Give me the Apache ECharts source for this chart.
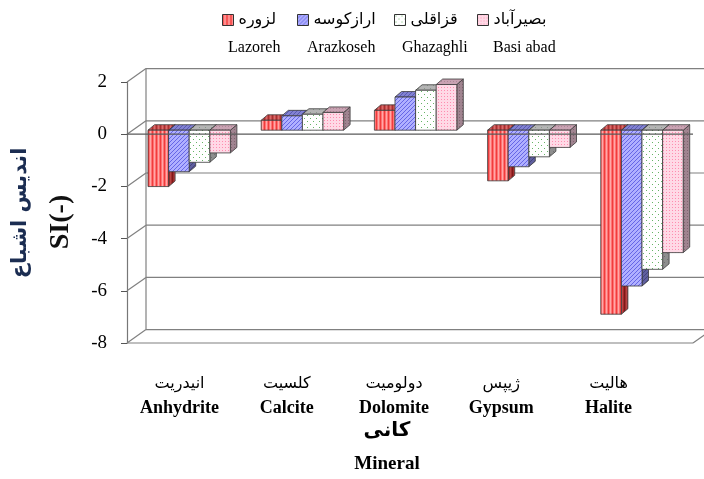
<!DOCTYPE html>
<html>
<head>
<meta charset="utf-8">
<script src="https://cdn.jsdelivr.net/npm/echarts@6/dist/echarts.min.js"></script>
<style>
  html, body { margin: 0; padding: 0; background: #ffffff; }
  #chart { width: 704px; height: 479px; }
</style>
</head>
<body>
<div id="chart"></div>
<script>
// Saturation index of four springs for five minerals
const categories = ['Anhydrite', 'Calcite', 'Dolomite', 'Gypsum', 'Halite'];
const categoriesFa = ['انیدریت', 'کلسیت', 'دولومیت', 'ژیپس', 'هالیت'];
const seriesNamesFa = ['لزوره', 'ارازکوسه', 'قزاقلی', 'بصیرآباد'];
const seriesNamesEn = ['Lazoreh', 'Arazkoseh', 'Ghazaghli', 'Basi abad'];
const lazoreh   = [-2.16, 0.38, 0.76, -1.94, -7.05];
const arazkoseh = [-1.59, 0.55, 1.27, -1.40, -5.97];
const ghazaghli = [-1.23, 0.61, 1.53, -1.02, -5.33];
const basiAbad  = [-0.87, 0.68, 1.75, -0.66, -4.69];
const yTicks = [-8, -6, -4, -2, 0, 2];
const Y_MIN = -8, Y_MAX = 2, Y_STEP = 2;

const allSeries = [lazoreh, arazkoseh, ghazaghli, basiAbad];

// pseudo-3D geometry (pixels)
const WALL = [19, -13.4];    // depth of the back wall
const PLANE = [5.6, -4];     // plane where the columns stand
const DEPTH = [6.5, -5.5];   // depth of each column
const BAR_FRACTION = 0.182;  // column width as fraction of the category band

// small repeating fills for the column faces
function makePattern(kind, base, ink, ink2) {
  const c = document.createElement('canvas');
  const size = { stripes: [4, 4], hatch: [4, 4], dots: [6, 6], fine: [3, 3] }[kind];
  c.width = size[0]; c.height = size[1];
  const g = c.getContext('2d');
  g.fillStyle = base; g.fillRect(0, 0, c.width, c.height);
  g.fillStyle = ink;
  if (kind === 'stripes') {
    g.fillRect(0, 0, 1, c.height);
    g.fillStyle = ink2; g.fillRect(2, 0, 1, c.height);
  } else if (kind === 'hatch') {
    for (let i = 0; i < 4; i++) g.fillRect(i, 3 - i, 1, 1);
  } else if (kind === 'dots') {
    g.fillRect(1, 1, 1, 1); g.fillRect(4, 4, 1, 1);
  } else {
    g.fillRect(0, 0, 1, 1);
  }
  return { image: c, repeat: 'repeat' };
}

const fills = [
  { front: makePattern('stripes', '#ff7272', '#f03c3c', '#ffa8a8'),
    top:   makePattern('stripes', '#c84c4c', '#a83030', '#d86c6c'),
    side:  makePattern('stripes', '#a02c2c', '#801818', '#b84444') },
  { front: makePattern('hatch', '#b0b0ff', '#6666e6'),
    top:   makePattern('hatch', '#8282d2', '#5a5ab2'),
    side:  makePattern('hatch', '#60609e', '#44447e') },
  { front: makePattern('dots', '#ffffff', '#66b466'),
    top:   makePattern('dots', '#b4b4b4', '#8a9a8a'),
    side:  makePattern('dots', '#8e8e8e', '#707070') },
  { front: makePattern('fine', '#ffd9e6', '#ff8db0'),
    top:   makePattern('fine', '#c9a2b2', '#ae8897'),
    side:  makePattern('fine', '#a08490', '#826470') }
];

const edge = { stroke: '#3a3a3a', lineWidth: 0.8 };

function columnRenderer(k) {
  return function (params, api) {
    const ci = api.value(0), v = api.value(1);
    const p = api.coord([ci, v]);
    const z = api.coord([ci, 0]);
    const w = api.size([1, 0])[0] * BAR_FRACTION;
    const xl = p[0] + PLANE[0] + (k - 2) * w;
    const xr = xl + w;
    const yv = p[1] + PLANE[1];
    const y0 = z[1] + PLANE[1];
    const yt = Math.min(yv, y0), yb = Math.max(yv, y0);
    const dx = DEPTH[0], dy = DEPTH[1];
    return {
      type: 'group',
      children: [
        { type: 'polygon', shape: { points: [[xr, yt], [xr, yb], [xr + dx, yb + dy], [xr + dx, yt + dy]] },
          style: Object.assign({ fill: fills[k].side }, edge) },
        { type: 'polygon', shape: { points: [[xl, yt], [xr, yt], [xr + dx, yt + dy], [xl + dx, yt + dy]] },
          style: Object.assign({ fill: fills[k].top }, edge) },
        { type: 'rect', shape: { x: xl, y: yt, width: w, height: yb - yt },
          style: Object.assign({ fill: fills[k].front }, edge) }
      ]
    };
  };
}

// back wall, side wall and floor lines
function frameRenderer(params, api) {
  const cs = params.coordSys;
  const v = api.value(1);
  const y = api.coord([0, v])[1];
  const x0 = cs.x, x1 = cs.x + cs.width;
  const wx = WALL[0], wy = WALL[1];
  const ls = { stroke: '#808080', lineWidth: 1.2 };
  const kids = [
    { type: 'line', shape: { x1: x0 + wx, y1: y + wy, x2: x1 + wx, y2: y + wy }, style: ls },
    { type: 'line', shape: { x1: x0, y1: y, x2: x0 + wx, y2: y + wy }, style: ls }
  ];
  if (v === Y_MIN) {
    kids.push({ type: 'line', shape: { x1: x0, y1: y, x2: x1, y2: y }, style: ls });
    kids.push({ type: 'line', shape: { x1: x1, y1: y, x2: x1 + wx, y2: y + wy }, style: ls });
  }
  if (v === Y_MAX) {
    const yb = api.coord([0, Y_MIN])[1];
    kids.push({ type: 'line', shape: { x1: x0 + wx, y1: y + wy, x2: x0 + wx, y2: yb + wy }, style: ls });
  }
  return { type: 'group', children: kids };
}

// front edge of the zero plane, drawn in front of the columns
function zeroRenderer(params, api) {
  const cs = params.coordSys;
  const y = api.coord([0, api.value(1)])[1];
  return { type: 'line', shape: { x1: cs.x, y1: y, x2: cs.x + cs.width, y2: y },
           style: { stroke: '#5a5a5a', lineWidth: 1.2 } };
}

const serifFont = '"Liberation Serif", "Times New Roman", serif';
const faFont = '"DejaVu Sans", sans-serif';
const legendLeft = [222, 297, 394, 477];
const legendEnLeft = [228, 307, 402, 493];

const series = [
  { type: 'custom', xAxisIndex: 0, yAxisIndex: 0, z: 1, silent: true,
    data: yTicks.map(v => [0, v]), renderItem: frameRenderer }
];
allSeries.forEach((vals, k) => {
  series.push({
    type: 'custom', name: seriesNamesFa[k], xAxisIndex: 0, yAxisIndex: 0, z: 2,
    data: vals.map((v, i) => [i, v]), encode: { x: 0, y: 1 },
    itemStyle: { color: fills[k].front },
    renderItem: columnRenderer(k)
  });
});
series.push({ type: 'custom', xAxisIndex: 0, yAxisIndex: 0, z: 3, silent: true,
  data: [[0, 0]], renderItem: zeroRenderer });
// carrier for the category labels row
series.push({ type: 'custom', xAxisIndex: 1, yAxisIndex: 1, silent: true,
  data: [], renderItem: () => null });

const graphics = seriesNamesEn.map((t, k) => ({
  type: 'text', left: legendEnLeft[k], top: 40,
  style: { text: t, font: '16px ' + serifFont, fill: '#000' }
}));
graphics.push({
  type: 'text', x: 21, y: 213, rotation: Math.PI / 2,
  style: { text: 'اندیس اشباع', font: 'bold 21px ' + faFont, fill: '#1b2d52',
           textAlign: 'center', textVerticalAlign: 'middle', align: 'center', verticalAlign: 'middle' }
});
graphics.push({
  type: 'text', x: 61, y: 222, rotation: Math.PI / 2,
  style: { text: 'SI(-)', font: 'bold 28px ' + serifFont, fill: '#111',
           textAlign: 'center', textVerticalAlign: 'middle', align: 'center', verticalAlign: 'middle' }
});
graphics.push({
  type: 'text', x: 387, y: 431,
  style: { text: 'کانی', font: 'bold 20px ' + faFont, fill: '#000',
           textAlign: 'center', textVerticalAlign: 'middle', align: 'center', verticalAlign: 'middle' }
});
graphics.push({
  type: 'text', x: 387, y: 464,
  style: { text: 'Mineral', font: 'bold 19px ' + serifFont, fill: '#000',
           textAlign: 'center', textVerticalAlign: 'middle', align: 'center', verticalAlign: 'middle' }
});

const chart = echarts.init(document.getElementById('chart'), null, { renderer: 'canvas' });
chart.setOption({
  animation: false,
  backgroundColor: '#ffffff',
  legend: seriesNamesFa.map((n, k) => ({
    data: [{ name: n, icon: 'rect', itemStyle: { color: fills[k].front, borderColor: '#333', borderWidth: 1 } }],
    left: legendLeft[k], top: 12, itemWidth: 11, itemHeight: 11, padding: 0,
    selectedMode: false,
    textStyle: { fontSize: 16, fontFamily: faFont, color: '#000' }
  })),
  grid: [
    { left: 127, top: 82, width: 566, height: 261 },
    { left: 125.9, top: 82, width: 536.3, height: 261 }
  ],
  xAxis: [
    { gridIndex: 0, type: 'category', data: categories, show: false },
    { gridIndex: 1, type: 'category', data: categories,
      axisLine: { show: false }, axisTick: { show: false }, splitLine: { show: false },
      axisLabel: {
        margin: 29, interval: 0,
        formatter: (v, i) => '{fa|' + categoriesFa[i] + '}\n{en|' + v + '}',
        rich: {
          fa: { fontSize: 16, fontFamily: faFont, color: '#000', lineHeight: 24 },
          en: { fontSize: 18, fontFamily: serifFont, fontWeight: 'bold', color: '#000', lineHeight: 24 }
        }
      } }
  ],
  yAxis: [
    { gridIndex: 0, type: 'value', min: Y_MIN, max: Y_MAX, interval: Y_STEP,
      axisLine: { show: true, lineStyle: { color: '#777', width: 1.2 } },
      axisTick: { show: true, length: 6, lineStyle: { color: '#555' } },
      splitLine: { show: false },
      axisLabel: { margin: 20, fontSize: 19, fontFamily: serifFont, color: '#000' } },
    { gridIndex: 1, type: 'value', min: Y_MIN, max: Y_MAX, show: false }
  ],
  graphic: graphics,
  series: series
});
</script>
</body>
</html>
